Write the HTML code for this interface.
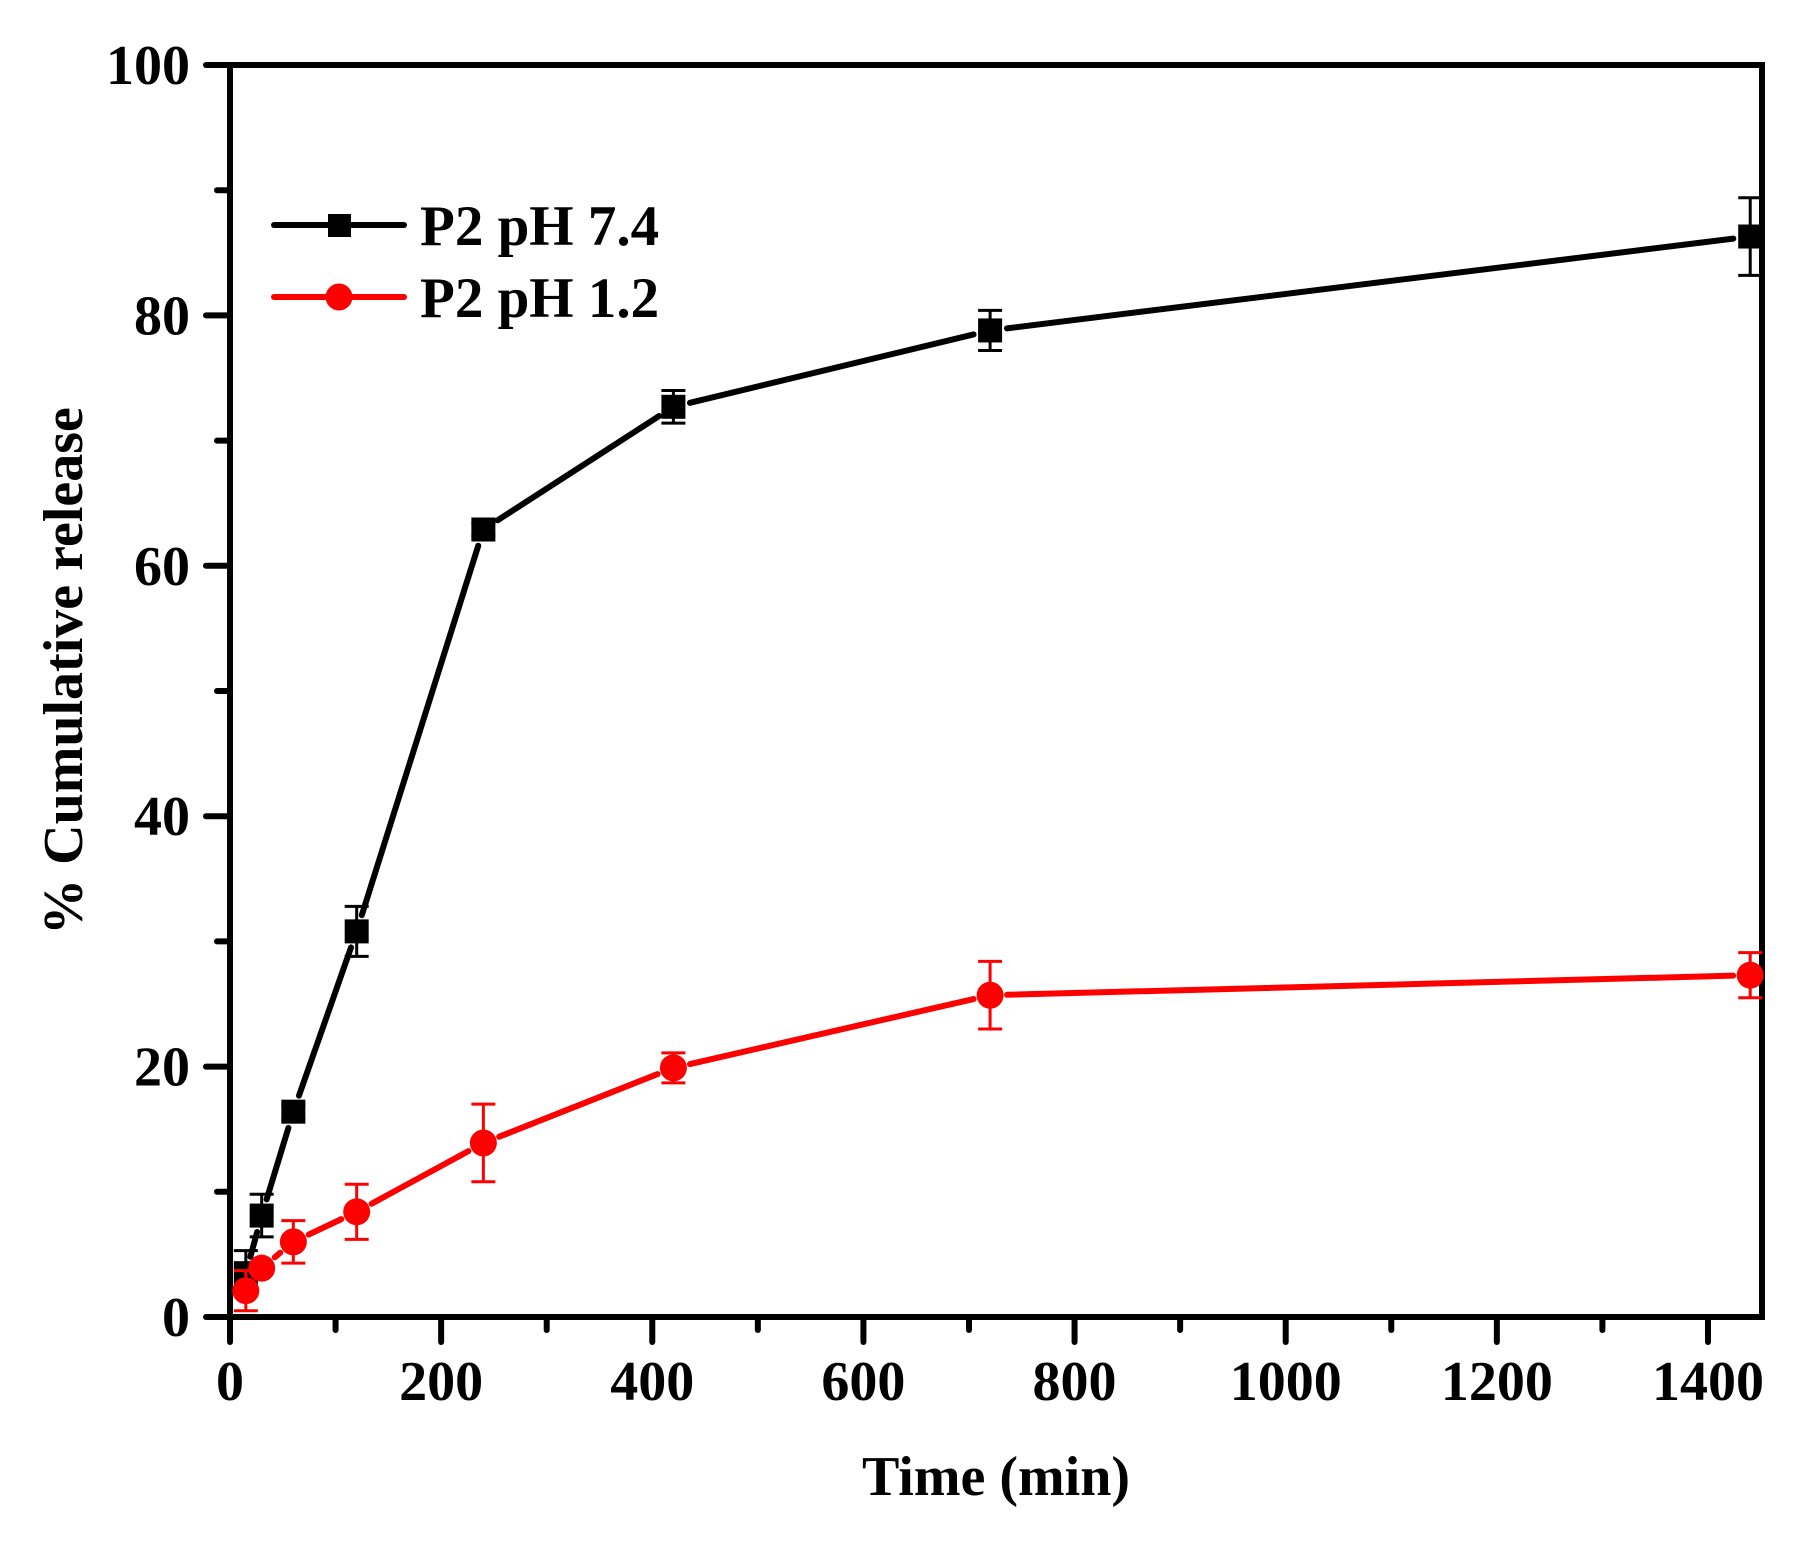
<!DOCTYPE html>
<html><head><meta charset="utf-8"><style>
html,body{margin:0;padding:0;background:#fff}
svg{display:block}
text{font-family:"Liberation Serif",serif;font-weight:bold}
</style></head><body>
<svg id="chart" width="1819" height="1542" viewBox="0 0 1819 1542" xmlns="http://www.w3.org/2000/svg">
<g id="axes"></g>
<g id="series"></g>
<text x="996" y="1495" font-size="56" text-anchor="middle">Time (min)</text>
<text transform="translate(82,671) rotate(-90)" font-size="56" text-anchor="middle">% Cumulative release</text>
<g>
<g>
<line x1="274" y1="225" x2="328" y2="225" stroke="#000" stroke-width="6" stroke-linecap="round"/>
<line x1="351" y1="225" x2="404" y2="225" stroke="#000" stroke-width="6" stroke-linecap="round"/>
<rect x="328" y="214" width="23" height="23" fill="#000"/>
<text x="420" y="245" font-size="57">P2 pH 7.4</text>
</g>
<g>
<line x1="274" y1="297" x2="326" y2="297" stroke="#f00" stroke-width="6" stroke-linecap="round"/>
<line x1="353" y1="297" x2="404" y2="297" stroke="#f00" stroke-width="6" stroke-linecap="round"/>
<circle cx="339" cy="297" r="13.5" fill="#f00"/>
<text x="420" y="317" font-size="57">P2 pH 1.2</text>
</g>
</g>
</svg>
<script>
const times = [15, 30, 60, 120, 240, 420, 720, 1440];
const ph74 = [3.5, 8.1, 16.4, 30.8, 62.9, 72.7, 78.8, 86.3];
const ph74Err = [1.8, 1.7, 0.6, 2.0, 0.5, 1.3, 1.6, 3.1];
const ph12 = [2.1, 3.9, 6.0, 8.4, 13.9, 19.9, 25.7, 27.3];
const ph12Err = [1.6, 0.4, 1.7, 2.2, 3.1, 1.2, 2.7, 1.8];
const xTicks = [0, 200, 400, 600, 800, 1000, 1200, 1400];
const yTicks = [0, 20, 40, 60, 80, 100];

const NS = 'http://www.w3.org/2000/svg';
const L = 230, R = 1762, T = 65, B = 1317;
const X = v => L + v * 1.0557;
const Y = v => B - v * 12.52;
function mk(tag, attrs, parent) {
  const e = document.createElementNS(NS, tag);
  for (const k in attrs) e.setAttribute(k, attrs[k]);
  parent.appendChild(e);
  return e;
}
const axes = document.getElementById('axes');
const frame = mk('rect', {x: L, y: T, width: R - L, height: B - T, fill: 'none', stroke: '#000', 'stroke-width': 6}, axes);


for (let v = 0; v <= 1400; v += 100) {
  const major = v % 200 === 0;
  const t = mk('line', {x1: X(v), y1: B, x2: X(v), y2: B + (major ? 25 : 13), stroke: '#000', 'stroke-width': 6, 'stroke-linecap': 'round'}, axes);
  
  
}
for (let v = 10; v < 100; v += 20) {
  const t = mk('line', {x1: L, y1: Y(v), x2: L - 13, y2: Y(v), stroke: '#000', 'stroke-width': 6, 'stroke-linecap': 'round'}, axes);
  
  
}
yTicks.forEach(v => {
  const t = mk('line', {x1: L, y1: Y(v), x2: L - 24, y2: Y(v), stroke: '#000', 'stroke-width': 6, 'stroke-linecap': 'round'}, axes);
  
  
  const lb = mk('text', {x: 190, y: Y(v) + 19, 'font-size': 56, 'text-anchor': 'end'}, axes);
  lb.textContent = v;
  
  
});
xTicks.forEach(v => {
  const lb = mk('text', {x: X(v), y: 1400, 'font-size': 56, 'text-anchor': 'middle'}, axes);
  lb.textContent = v;
  
  
});
const series = document.getElementById('series');
function draw(vals, errs, color, shape, name) {
  const g = mk('g', {}, series);
  
  
  const gap = 17;
  for (let i = 0; i < times.length - 1; i++) {
    const x1 = X(times[i]), y1 = Y(vals[i]), x2 = X(times[i + 1]), y2 = Y(vals[i + 1]);
    const d = Math.hypot(x2 - x1, y2 - y1);
    if (d <= 2 * gap) continue;
    const ux = (x2 - x1) / d, uy = (y2 - y1) / d;
    const s = mk('line', {x1: x1 + ux * gap, y1: y1 + uy * gap, x2: x2 - ux * gap, y2: y2 - uy * gap, stroke: color, 'stroke-width': 6, 'stroke-linecap': 'round'}, g);
    
    
  }
  times.forEach((t, i) => {
    const x = X(t), y = Y(vals[i]), yt = Y(vals[i] + errs[i]), yb = Y(vals[i] - errs[i]);
    const eb = mk('path', {d: `M${x},${yt}V${yb}M${x - 12},${yt}H${x + 12}M${x - 12},${yb}H${x + 12}`, stroke: color, 'stroke-width': 3, fill: 'none'}, g);
    
    
    let m;
    if (shape === 'square') m = mk('rect', {x: x - 12, y: y - 12, width: 24, height: 24, fill: color}, g);
    else m = mk('circle', {cx: x, cy: y, r: 13.5, fill: color}, g);
    
    
  });
}
draw(ph74, ph74Err, '#000', 'square', 'series-ph74');
draw(ph12, ph12Err, '#f00', 'circle', 'series-ph12');
</script>
</body></html>
